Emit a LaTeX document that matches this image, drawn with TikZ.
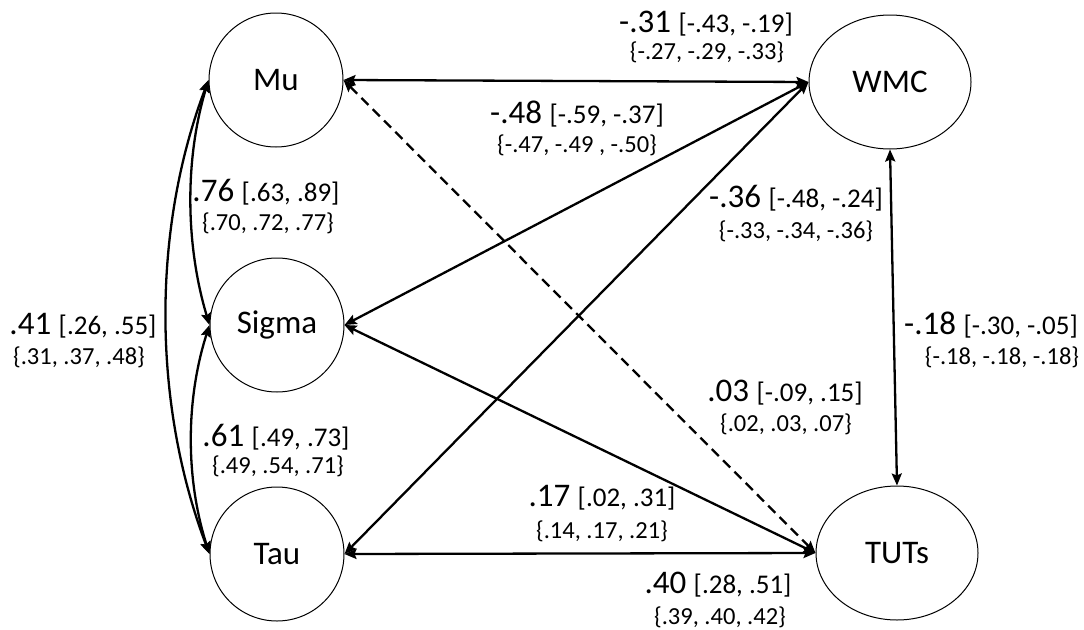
\documentclass[tikz,border=0pt]{standalone}
\usepackage{fontspec}
\setmainfont{Carlito}
\usetikzlibrary{arrows.meta,shapes.geometric,calc}
\newcommand\brk[1]{{\fontsize{27}{30}\selectfont #1}}
\begin{document}
\begin{tikzpicture}[x=1pt,y=-1pt,
  lat/.style={circle,draw,line width=1pt,minimum size=134pt,inner sep=0pt,font=\fontsize{33}{36}\selectfont},
  latE/.style={ellipse,draw,line width=1pt,minimum width=162pt,minimum height=134pt,inner sep=0pt,font=\fontsize{33}{36}\selectfont},
  tip/.tip={Stealth[length=12pt,width=10pt,inset=2pt]},
  con/.style={line width=2.3pt,tip-tip},
  dsh/.style={con,dash pattern=on 10pt off 6pt},
  est/.style={inner sep=0pt,font=\fontsize{33}{36}\selectfont},
  cis/.style={inner sep=0pt,font=\fontsize{24.5}{27}\selectfont}]
\useasboundingbox (0,0) rectangle (1084,629);
% latent variables
\node[lat] (mu) at (276,80) {Mu};
\node[latE] (wmc) at (890,82) {WMC};
\node[lat] (sigma) at (277,325) {Sigma};
\node[lat] (tau) at (277,554) {Tau};
\node[latE] (tuts) at (897,553) {TUTs};
% connectors
\draw[con] (mu.east) -- (wmc.west);
\draw[dsh] (mu.east) -- (tuts.west);
\draw[con] (wmc.west) -- (sigma.east);
\draw[con] (wmc.west) -- (tau.east);
\draw[con] (sigma.east) -- (tuts.west);
\draw[con] (tau.east) -- (tuts.west);
\draw[con] (wmc.south) -- (tuts.north);
\draw[con] (mu.west) .. controls +(-24,80) and +(-24,-80) .. (sigma.west);
\draw[con] (sigma.west) .. controls +(-24,75) and +(-24,-75) .. (tau.west);
\draw[con] (mu.west) .. controls +(-57,150) and +(-57,-150) .. (tau.west);
% labels
\node[est] (l1a) at (706,24) {-.31 \brk{[-.43, -.19]}};
\node[cis] (l1b) at (707,52) {\{-.27, -.29, -.33\}};
\node[est] (l2a) at (577,114) {-.48 \brk{[-.59, -.37]}};
\node[cis] (l2b) at (577,145) {\{-.47, -.49 , -.50\}};
\node[est] (l3a) at (796,198) {-.36 \brk{[-.48, -.24]}};
\node[cis] (l3b) at (796,231) {\{-.33, -.34, -.36\}};
\node[est] (l4a) at (991,325) {-.18 \brk{[-.30, -.05]}};
\node[cis] (l4b) at (1002,357) {\{-.18, -.18, -.18\}};
\node[est] (l5a) at (266,192) {.76 \brk{[.63, .89]}};
\node[cis] (l5b) at (268,223) {\{.70, .72, .77\}};
\node[est] (l6a) at (276,437) {.61 \brk{[.49, .73]}};
\node[cis] (l6b) at (278,466) {\{.49, .54, .71\}};
\node[est] (l7a) at (785,393) {.03 \brk{[-.09, .15]}};
\node[cis] (l7b) at (786,424) {\{.02, .03, .07\}};
\node[est] (l8a) at (602,498) {.17 \brk{[.02, .31]}};
\node[cis] (l8b) at (602,531) {\{.14, .17, .21\}};
\node[est] (l9a) at (718,585) {.40 \brk{[.28, .51]}};
\node[cis] (l9b) at (720,617) {\{.39, .40, .42\}};
\node[est] (l10a) at (83,326) {.41 \brk{[.26, .55]}};
\node[cis] (l10b) at (79,357) {\{.31, .37, .48\}};
\end{tikzpicture}
\end{document}
